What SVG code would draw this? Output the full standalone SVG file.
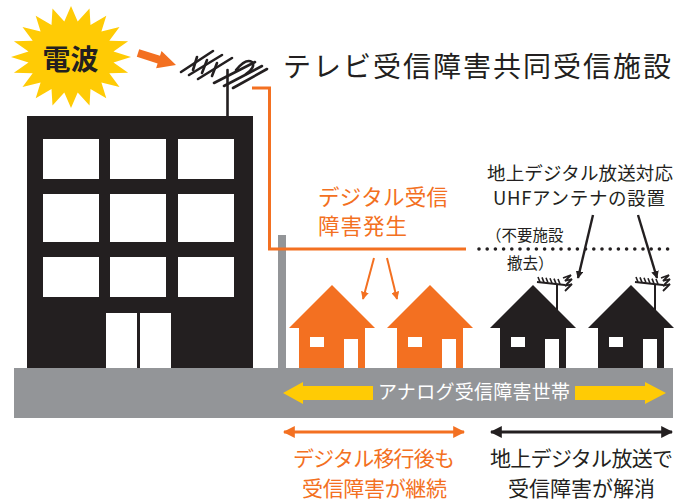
<svg xmlns="http://www.w3.org/2000/svg" width="686" height="502" viewBox="0 0 686 502">
  <defs>
    <style>
      .txt { font-family: "Noto Sans CJK JP", "Noto Sans", sans-serif; }
      .ink { fill: #231f20; }
      .org { fill: #f37021; }
      .stk { stroke: #231f20; fill: none; }
      .ostk { stroke: #f37021; fill: none; }
    </style>
    <marker id="headBlack" viewBox="0 0 10 10" refX="9" refY="5" markerWidth="4" markerHeight="4" orient="auto-start-reverse" markerUnits="strokeWidth">
      <path d="M0,0 L10,5 L0,10 Z" fill="#231f20"/>
    </marker>
    <marker id="headOrange" viewBox="0 0 10 10" refX="9" refY="5" markerWidth="4" markerHeight="4" orient="auto-start-reverse" markerUnits="strokeWidth">
      <path d="M0,0 L10,5 L0,10 Z" fill="#f37021"/>
    </marker>
    <marker id="headBlackThin" viewBox="0 0 10 10" refX="9" refY="5" markerWidth="3.2" markerHeight="3.2" orient="auto-start-reverse" markerUnits="strokeWidth">
      <path d="M0,0 L10,5 L0,10 Z" fill="#231f20"/>
    </marker>
    <!-- small yagi antenna on a house roof -->
    <g id="smallAntenna">
      <line x1="0" y1="0" x2="0" y2="28" stroke="#231f20" stroke-width="2"/>
      <path d="M-20,-3 L8,0" stroke="#231f20" stroke-width="2" fill="none"/>
      <path d="M-17,-3 l-2,-5 M-13,-2.6 l-2,-5 M-9,-2.2 l-2,-5 M-5,-1.8 l-2,-5 M-1,-1.4 l-2,-5 M3,-1 l-2,-5" stroke="#231f20" stroke-width="1.6" fill="none"/>
      <path d="M6,-7 L14,-10 L8,-4 L15,-6 L8,1 L15,-1 L8,6" stroke="#231f20" stroke-width="1.8" fill="none" stroke-linejoin="bevel"/>
    </g>
    <!-- house outline: roof triangle + body -->
    <path id="houseShape" d="M0,0 L43,43 L33,43 L33,83 L-33,83 L-33,43 L-43,43 Z"/>
  </defs>

  <rect width="686" height="502" fill="#ffffff"/>

  <!-- ground -->
  <g id="ground">
    <rect x="14" y="368" width="659" height="50" fill="#939598"/>
  </g>

  <!-- radio-wave burst -->
  <g id="burst">
    <polygon fill="#ffcb05" points="71,6 77.7,21.4 89.5,8.5 90.5,24.9 106.3,15.7 101.4,31.5 119.5,27 109.3,40.7 128.1,41.2 113.5,51.4 131,57 113.5,62.6 128.1,72.8 109.3,73.3 119.5,87 101.4,82.5 106.3,98.3 90.5,89.1 89.5,105.5 77.7,92.6 71,108 64.3,92.6 52.5,105.5 51.5,89.1 35.7,98.3 40.6,82.5 22.5,87 32.7,73.3 13.9,72.8 28.5,62.6 11,57 28.5,51.4 13.9,41.2 32.7,40.7 22.5,27 40.6,31.5 35.7,15.7 51.5,24.9 52.5,8.5 64.3,21.4"/>
    <text class="txt ink" x="70.5" y="70" font-size="28" font-weight="bold" text-anchor="middle">電波</text>
  </g>

  <!-- wave arrow toward the antenna -->
  <g id="waveArrow">
    <polygon class="org" points="139.2,49.2 160,55.8 161.5,51 176,65 156.1,68.2 157.6,63.4 136.8,56.8"/>
  </g>

  <!-- apartment building -->
  <g id="building">
    <rect class="ink" x="27" y="116" width="226" height="252"/>
    <g fill="#ffffff">
      <rect x="43" y="139" width="56" height="40"/>
      <rect x="110" y="139" width="56" height="40"/>
      <rect x="178" y="139" width="56" height="40"/>
      <rect x="43" y="194" width="56" height="48"/>
      <rect x="110" y="194" width="56" height="48"/>
      <rect x="178" y="194" width="56" height="48"/>
      <rect x="43" y="257" width="56" height="40"/>
      <rect x="110" y="257" width="56" height="40"/>
      <rect x="178" y="257" width="56" height="40"/>
      <rect x="106" y="313" width="31" height="55"/>
      <rect x="140" y="313" width="31" height="55"/>
    </g>
  </g>

  <!-- shared rooftop antenna -->
  <g id="roofAntenna" stroke="#231f20" stroke-width="2.6" stroke-linecap="round" fill="none">
    <line x1="227.5" y1="70" x2="227.5" y2="116"/>
    <line x1="181" y1="72" x2="213" y2="51"/>
    <line x1="189" y1="75" x2="222" y2="55"/>
    <line x1="198" y1="79" x2="232" y2="58"/>
    <line x1="214" y1="83" x2="255" y2="62"/>
    <line x1="224" y1="86" x2="262" y2="66"/>
    <line x1="233" y1="88" x2="267" y2="69"/>
    <!-- crossbars -->
    <line x1="193" y1="70" x2="197" y2="57"/>
    <line x1="202" y1="73" x2="207" y2="60"/>
    <line x1="212" y1="76" x2="217" y2="63"/>
    <path d="M236,70 Q246,58 252,62 Q256,67 246,74"/>
  </g>

  <!-- grey utility pole -->
  <g id="pole">
    <rect x="278" y="235" width="8" height="133" fill="#939598"/>
  </g>

  <!-- houses -->
  <g id="house1">
    <use href="#houseShape" x="332" y="285" fill="#f37021"/>
    <rect x="310" y="337" width="14" height="10" fill="#fff"/>
    <rect x="344" y="339" width="14" height="29" fill="#fff"/>
  </g>
  <g id="house2">
    <use href="#houseShape" x="430" y="285" fill="#f37021"/>
    <rect x="408" y="337" width="14" height="10" fill="#fff"/>
    <rect x="442" y="339" width="14" height="29" fill="#fff"/>
  </g>
  <g id="house3">
    <use href="#smallAntenna" x="557" y="285"/>
    <use href="#houseShape" x="533" y="285" fill="#231f20"/>
    <rect x="511" y="337" width="14" height="10" fill="#fff"/>
    <rect x="545" y="339" width="14" height="29" fill="#fff"/>
  </g>
  <g id="house4">
    <use href="#smallAntenna" x="655" y="285"/>
    <use href="#houseShape" x="631" y="285" fill="#231f20"/>
    <rect x="609" y="337" width="14" height="10" fill="#fff"/>
    <rect x="643" y="339" width="14" height="29" fill="#fff"/>
  </g>

  <!-- connectors -->
  <g id="connectors">
    <!-- distribution cable from the shared antenna -->
    <path class="ostk" stroke-width="3" d="M252,88 H269.5 V249 H466"/>
    <!-- old facilities line (dotted) -->
    <line x1="479" y1="249" x2="668" y2="249" stroke="#231f20" stroke-width="3.6" stroke-linecap="round" stroke-dasharray="0 8.2"/>
    <!-- interference arrows -->
    <line class="ostk" stroke-width="2" x1="374" y1="258" x2="363" y2="299" marker-end="url(#headOrange)"/>
    <line class="ostk" stroke-width="2" x1="387" y1="258" x2="397" y2="299" marker-end="url(#headOrange)"/>
    <!-- UHF antenna callout arrows -->
    <line class="stk" stroke-width="2.4" x1="593" y1="215" x2="578" y2="278" marker-end="url(#headBlackThin)"/>
    <line class="stk" stroke-width="2.4" x1="638" y1="215" x2="657" y2="278" marker-end="url(#headBlackThin)"/>
    <!-- analog-interference span -->
    <polygon fill="#ffcb05" points="283,393 303,382 303,386 373,386 373,400 303,400 303,404"/>
    <polygon fill="#ffcb05" points="666,393 645,382 645,386 575,386 575,400 645,400 645,404"/>
    <!-- outcome spans -->
    <line class="ostk" stroke-width="3" x1="284" y1="432" x2="464" y2="432" marker-start="url(#headOrange)" marker-end="url(#headOrange)"/>
    <line class="stk" stroke-width="3" x1="491" y1="432" x2="672" y2="432" marker-start="url(#headBlack)" marker-end="url(#headBlack)"/>
  </g>

  <!-- labels -->
  <g id="labels" class="txt">
    <text class="ink" x="283" y="77" font-size="28" textLength="388" lengthAdjust="spacing">テレビ受信障害共同受信施設</text>
    <text class="org" x="318" y="204.5" font-size="21.5" textLength="130" lengthAdjust="spacing">デジタル受信</text>
    <text class="org" x="318" y="234" font-size="21.5" textLength="89" lengthAdjust="spacing">障害発生</text>
    <text class="ink" x="487" y="180" font-size="18.5" textLength="186" lengthAdjust="spacing">地上デジタル放送対応</text>
    <text class="ink" x="493" y="205" font-size="18.5" textLength="172" lengthAdjust="spacing">UHFアンテナの設置</text>
    <text class="ink" x="486" y="241" font-size="15.5">（不要施設</text>
    <text class="ink" x="507" y="269" font-size="15.5">撤去）</text>
    <text fill="#ffffff" x="378" y="399" font-size="19" textLength="192" lengthAdjust="spacing">アナログ受信障害世帯</text>
    <text class="org" x="293" y="466" font-size="21" textLength="162" lengthAdjust="spacing">デジタル移行後も</text>
    <text class="org" x="302" y="496" font-size="21" textLength="145" lengthAdjust="spacing">受信障害が継続</text>
    <text class="ink" x="490" y="466" font-size="21" textLength="183" lengthAdjust="spacing">地上デジタル放送で</text>
    <text class="ink" x="508" y="496" font-size="21" textLength="147" lengthAdjust="spacing">受信障害が解消</text>
  </g>
</svg>
